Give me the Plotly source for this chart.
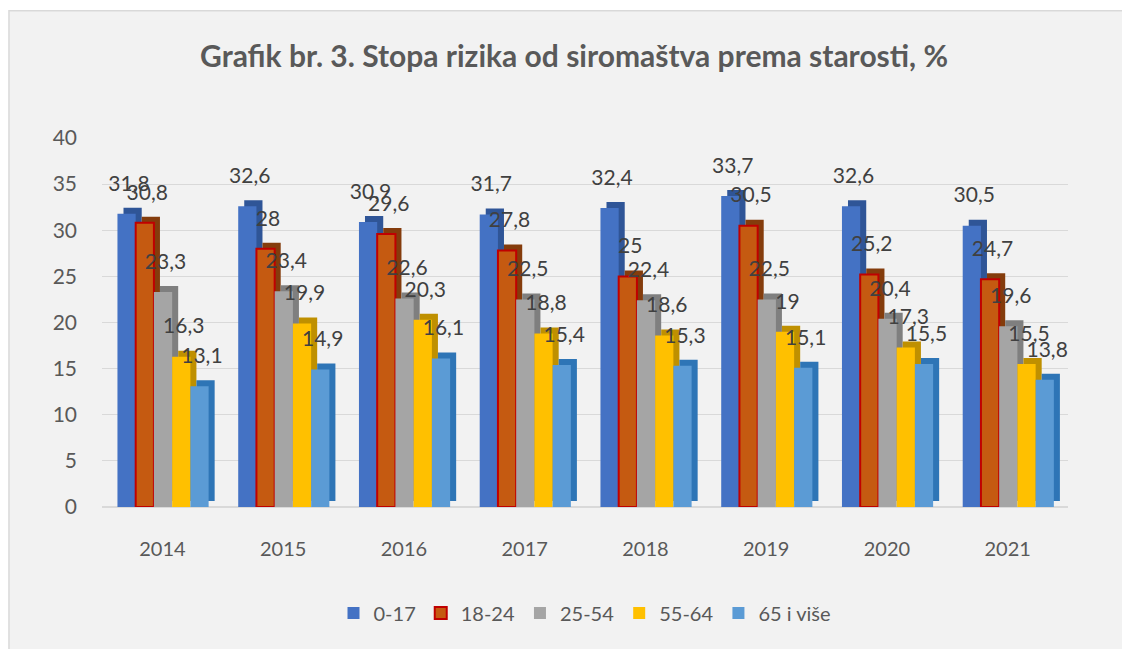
import plotly.graph_objects as go

years = ["2014", "2015", "2016", "2017", "2018", "2019", "2020", "2021"]
s_0_17 = [31.8, 32.6, 30.9, 31.7, 32.4, 33.7, 32.6, 30.5]
s_18_24 = [30.8, 28, 29.6, 27.8, 25, 30.5, 25.2, 24.7]
s_25_54 = [23.3, 23.4, 22.6, 22.5, 22.4, 22.5, 20.4, 19.6]
s_55_64 = [16.3, 19.9, 20.3, 18.8, 18.6, 19, 17.3, 15.5]
s_65 = [13.1, 14.9, 16.1, 15.4, 15.3, 15.1, 15.5, 13.8]
series_names = ["0-17", "18-24", "25-54", "55-64", "65 i više"]
series_values = [s_0_17, s_18_24, s_25_54, s_55_64, s_65]

colors = ["#4472C4", "#C55A11", "#A5A5A5", "#FFC000", "#5B9BD5"]
side_colors = ["#2F5597", "#843C0C", "#7F7F7F", "#BF9000", "#2E75B6"]
line_colors = ["#4472C4", "#C00000", "#A5A5A5", "#FFC000", "#5B9BD5"]
line_widths = [0, 2, 0, 0, 0]


def fmt(v):
    return ("%g" % v).replace(".", ",")


FONT = "Lato"
TXT = "#404040"
W = 0.151
START = -0.372
DX = 0.05
DEPTH = 0.65
LIFT = 1.75

fig = go.Figure()
for i, (name, vals) in enumerate(zip(series_names, series_values)):
    off = START + i * W
    # depth (3D side) face
    fig.add_trace(go.Bar(
        x=years, y=vals, base=[DEPTH] * len(vals), offset=off + DX, width=W,
        marker=dict(color=side_colors[i], line=dict(width=0)),
        showlegend=False, hoverinfo="skip",
    ))
    # front face
    fig.add_trace(go.Bar(
        x=years, y=vals, name=name, offset=off, width=W,
        marker=dict(color=colors[i], line=dict(color=line_colors[i], width=line_widths[i])),
    ))
for i, vals in enumerate(series_values):
    off = START + i * W
    # invisible carrier for the data labels
    fig.add_trace(go.Bar(
        x=years, y=vals, base=[LIFT] * len(vals), offset=off + 0.02, width=W,
        marker=dict(color="rgba(0,0,0,0)", line=dict(width=0)),
        text=[fmt(v) for v in vals], textposition="outside",
        constraintext="none", cliponaxis=False,
        textfont=dict(family=FONT, size=21, color=TXT),
        showlegend=False, hoverinfo="skip",
    ))

fig.update_layout(
    width=1122, height=641,
    barmode="overlay",
    paper_bgcolor="white",
    plot_bgcolor="rgba(0,0,0,0)",
    margin=dict(l=94, r=62, t=130, b=142),
    title=dict(text="<b>Grafik br. 3. Stopa rizika od siromaštva prema starosti, %</b>",
               x=0.5045, xanchor="center", y=0.9236, yanchor="middle", yref="container",
               font=dict(family=FONT, size=30, color="#595959")),
    font=dict(family=FONT, color="#595959"),
    showlegend=True,
    legend=dict(orientation="h", x=0.5, xanchor="center", y=-0.287, yanchor="middle",
                font=dict(family=FONT, size=20, color="#595959"),
                bgcolor="rgba(0,0,0,0)", traceorder="normal", itemwidth=30),
    shapes=[dict(type="rect", xref="paper", yref="paper", x0=-0.0963, x1=1.2, y0=-0.5, y1=1.345,
                 fillcolor="#F2F2F2", line=dict(color="#D9D9D9", width=1.5), layer="below")],
)
fig.update_xaxes(showgrid=False, showline=False, ticks="", ticklabelstandoff=28,
                 tickfont=dict(family=FONT, size=20, color="#595959"))
fig.update_yaxes(range=[0, 40], dtick=5, showgrid=True, gridcolor="#D9D9D9", gridwidth=1,
                 zeroline=True, zerolinecolor="#D9D9D9", showline=False, ticks="",
                 ticklabelstandoff=24,
                 tickfont=dict(family=FONT, size=21, color="#595959"))

fig.write_html("out.html")
